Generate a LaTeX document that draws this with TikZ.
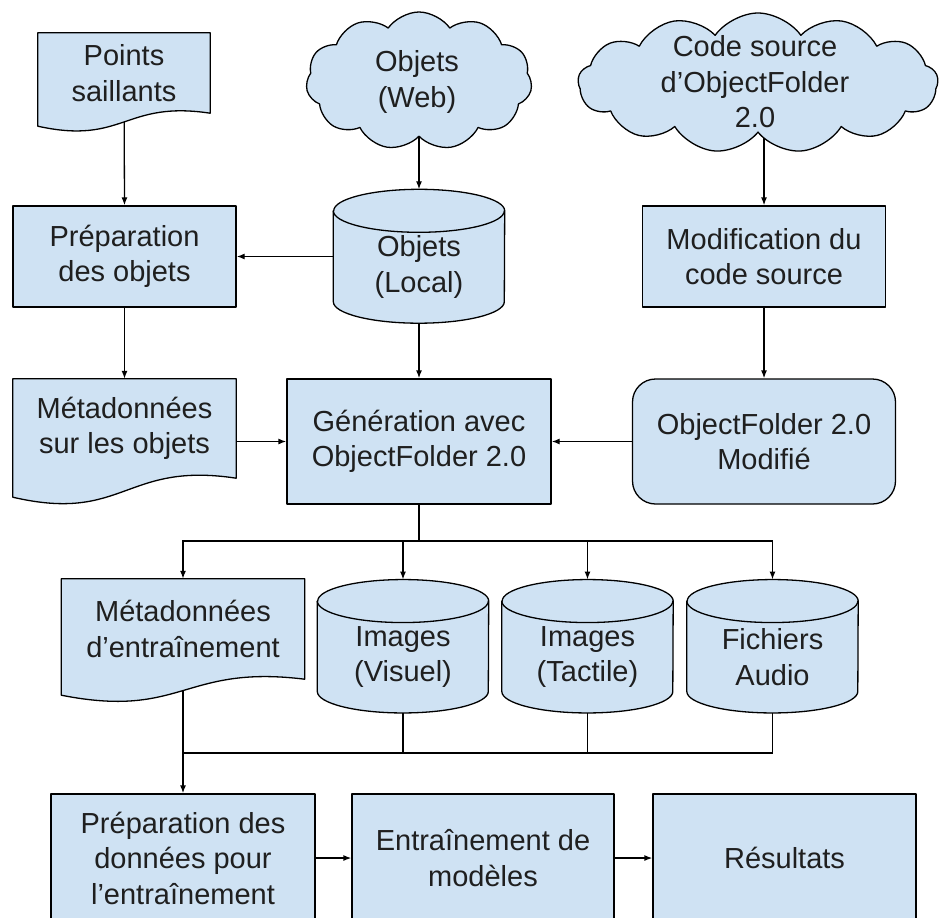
\documentclass[tikz,border=0pt]{standalone}
\usepackage{fontspec}
\setmainfont{Liberation Sans}
\usetikzlibrary{shapes.symbols,calc,arrows.meta}
\pgfdeclarelayer{edges}\pgfdeclarelayer{shapes}
\pgfsetlayers{edges,shapes,main}
\definecolor{boxfill}{HTML}{CFE2F3}
\definecolor{ink}{HTML}{1F1F1F}
\tikzset{
  txt/.style={font=\fontsize{29pt}{35.5pt}\selectfont, text=ink, align=center, inner sep=0pt},
  shp/.style={draw=black, fill=boxfill, line width=1.3pt, line join=round},
  boxn/.style={txt, shp, rectangle},
  geomn/.style={txt, rectangle},
  cloudn/.style={shp, cloud, cloud ignores aspect, cloud puff arc=110, inner sep=0pt},
  arr/.style={draw=black, line width=1.3pt, -{Latex[length=8pt,width=6pt]}},
  ln/.style={draw=black, line width=1.3pt},
}
\newcommand\docshape[4]{%
  \begin{pgfonlayer}{shapes}
  \path[shp] (#1.north west) -- (#1.north east) -- (#1.south east)
    .. controls ($(#1.south)+(0,-#3)$) and ($(#1.south)+(0,#4)$) .. ($(#1.south west)+(0,#2)$) -- cycle;
  \end{pgfonlayer}}
\newcommand\cylshape[1]{%
  \begin{pgfonlayer}{shapes}
  \path[shp] (#1.north west) -- ([yshift=21.5pt]#1.south west)
    arc[start angle=180,end angle=360,x radius=85.5pt,y radius=21.5pt]
    -- (#1.north east)
    arc[start angle=0,end angle=180,x radius=85.5pt,y radius=21.5pt] -- cycle;
  \draw[shp, fill=none] (#1.north west)
    arc[start angle=180,end angle=360,x radius=85.5pt,y radius=21.5pt];
  \end{pgfonlayer}}
\begin{document}
\begin{tikzpicture}[x=1pt,y=-1pt]
\clip (0,0) rectangle (940,918);
\begin{pgfonlayer}{edges}
\fill[white] (0,0) rectangle (940,918);
\end{pgfonlayer}

% top row
\node[geomn, minimum width=172pt, minimum height=80pt] (ps) at (124,73) {Points\\saillants};
\docshape{ps}{13}{13}{32}
\node[cloudn, cloud puffs=11, minimum width=226pt, minimum height=138pt] (web) at (419,81) {};
\node[txt] (webt) at (417,82) {Objets\\(Web)};
\node[cloudn, cloud puffs=13, minimum width=360pt, minimum height=140pt] (code) at (758,83) {};
\node[txt] (codet) at (755,82) {Code source\\d’ObjectFolder\\2.0};

% second row
\node[boxn, minimum width=223pt, minimum height=101pt] (prep) at (124.5,256.5) {Préparation\\des objets};
\node[geomn, minimum width=171pt, minimum height=112pt] (ol) at (419,267) {Objets\\(Local)};
\cylshape{ol}
\node[boxn, minimum width=243pt, minimum height=101pt] (mod) at (764,256.5) {Modification du\\code source};

% third row
\node[geomn, minimum width=223pt, minimum height=99pt] (mso) at (124.5,428.5) {Métadonnées\\sur les objets};
\docshape{mso}{19}{17}{45}
\node[boxn, minimum width=264pt, minimum height=125pt] (gen) at (419,441.5) {Génération avec\\ObjectFolder 2.0};
\node[boxn, rounded corners=23pt, minimum width=263pt, minimum height=125pt] (ofm) at (764,441.5) {ObjectFolder 2.0\\Modifié};

% fourth row
\node[geomn, minimum width=243pt, minimum height=100pt] (mde) at (183,629) {Métadonnées\\d’entraînement};
\docshape{mde}{16}{15}{40}
\node[geomn, minimum width=171pt, minimum height=111.5pt] (vis) at (403,657) {Images\\(Visuel)};
\cylshape{vis}
\node[geomn, minimum width=171pt, minimum height=111.5pt] (tac) at (587.5,657) {Images\\(Tactile)};
\cylshape{tac}
\node[geomn, minimum width=171pt, minimum height=111.5pt] (aud) at (772.5,657) {Fichiers\\Audio};
\cylshape{aud}

% bottom row
\node[boxn, minimum width=264pt, minimum height=128pt] (pdd) at (183,858) {Préparation des\\données pour\\l’entraînement};
\node[boxn, minimum width=262pt, minimum height=128pt] (ent) at (483,858) {Entraînement de\\modèles};
\node[boxn, minimum width=263pt, minimum height=128pt] (res) at (784.5,858) {Résultats};

\coordinate (split) at (419,541);
\coordinate (merge) at (183,753);

\begin{pgfonlayer}{edges}
\draw[arr] (ps.center) -- (prep.north);
\draw[arr] (web.center) -- ([yshift=21.5pt]ol.north);
\draw[arr] (mod.north |- code.center) -- (mod.north);
\draw[arr] (prep.east -| ol.center) -- (prep.east);
\draw[arr] (prep.south) -- (mso.north);
\draw[arr] (ol.center) -- (gen.north);
\draw[arr] (mod.south) -- (ofm.north);
\draw[arr] (gen.west -| mso.center) -- (gen.west);
\draw[arr] (ofm.west) -- (gen.east);
\draw[ln] (gen.south) -- (split);
\draw[arr] (split) -| (mde.north);
\draw[arr] (split) -| ([yshift=21.5pt]vis.north);
\draw[arr] (split) -| ([yshift=21.5pt]tac.north);
\draw[arr] (split) -| ([yshift=21.5pt]aud.north);
\draw[ln] (vis.center) |- (merge);
\draw[ln] (tac.center) |- (merge);
\draw[ln] (aud.center) |- (merge);
\draw[arr] (mde.center) -- (pdd.north);
\draw[arr] (pdd.east) -- (ent.west);
\draw[arr] (ent.east) -- (res.west);
\end{pgfonlayer}
\end{tikzpicture}
\end{document}
